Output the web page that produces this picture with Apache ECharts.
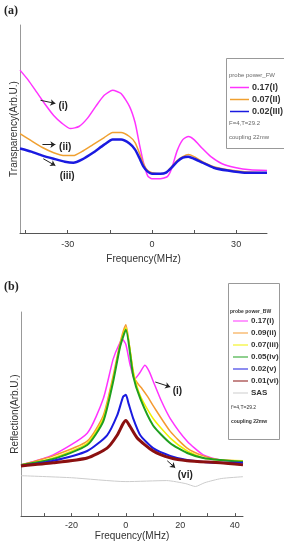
<!DOCTYPE html>
<html>
<head>
<meta charset="utf-8">
<script src="https://cdn.jsdelivr.net/npm/echarts@6/dist/echarts.min.js"></script>
<style>
  body { margin: 0; background: #fff; }
  #myChart { width: 284px; height: 542px; }
</style>
</head>
<body>
<div id="myChart"></div>
<script>
// panel (a) - transparency
var freqA = [-47, -44, -41, -38, -35, -32, -29, -26, -23, -20, -17, -14, -11, -8, -6, -4.5, -3, -1.5, 0, 3, 5.5, 7, 9, 11, 13, 15, 18, 21, 25, 30, 35, 41];
var transA1 = [7.83, 7.34, 6.76, 6.18, 5.65, 5.27, 5.02, 5.12, 5.51, 6.09, 6.62, 6.86, 6.71, 6.09, 5.31, 4.30, 3.38, 2.75, 2.61, 2.61, 2.71, 3.09, 3.96, 4.49, 4.64, 4.49, 4.06, 3.67, 3.33, 3.14, 3.04, 3.00];
var freqA23 = [-47, -43, -39, -35, -31, -28, -25, -21, -17, -14, -11, -8, -6, -4.5, -3, -1.5, 0, 3, 5, 7, 9, 11, 13, 15, 18, 22, 27, 33, 41];
var transA2 = [4.78, 4.44, 4.11, 3.86, 3.72, 3.72, 3.91, 4.25, 4.59, 4.83, 4.83, 4.64, 4.35, 3.86, 3.33, 3.00, 2.90, 2.85, 2.90, 3.19, 3.48, 3.67, 3.77, 3.67, 3.43, 3.19, 3.04, 2.95, 2.90];
var transA3 = [4.06, 3.91, 3.72, 3.57, 3.43, 3.38, 3.53, 3.86, 4.25, 4.49, 4.49, 4.30, 4.01, 3.62, 3.19, 2.95, 2.85, 2.85, 2.90, 3.14, 3.43, 3.62, 3.67, 3.57, 3.38, 3.14, 3.00, 2.90, 2.90];
var namesA = ['0.17(I)', '0.07(II)', '0.02(III)'];

// panel (b) - reflection
var freqB1 = [-38.5, -26.7, -14.2, -8.3, -4.7, -2.5, -1.2, 0, 1.5, 3.2, 5, 7, 8.5, 10, 13, 16.3, 22.5, 28.4, 34.7, 43];
var reflB1 = [2.51, 3.00, 4.06, 5.75, 7.68, 8.41, 8.65, 8.41, 7.44, 6.71, 7.00, 7.39, 7.10, 6.62, 5.65, 4.78, 3.67, 3.00, 2.75, 2.71];
var freqB2 = [-38.5, -26.7, -14.2, -8.3, -4.7, -2.1, 0, 1.5, 3, 4.5, 6, 8, 10, 16.3, 22.5, 28.4, 34.7, 43];
var reflB2 = [2.51, 2.95, 3.67, 4.93, 6.86, 8.50, 9.37, 8.16, 6.81, 6.47, 6.23, 5.85, 5.41, 4.15, 3.33, 2.95, 2.75, 2.71];
var freqB34 = [-38.5, -26.7, -14.2, -8.3, -4.7, -2.1, 0, 2.7, 5.3, 10, 16.3, 22.5, 28.4, 34.7, 43];
var reflB3 = [2.51, 2.85, 3.57, 4.78, 6.71, 8.36, 9.23, 7.10, 5.89, 4.78, 3.82, 3.19, 2.85, 2.75, 2.71];
var reflB4 = [2.51, 2.80, 3.48, 4.64, 6.57, 8.31, 9.13, 6.86, 5.75, 4.44, 3.57, 3.09, 2.85, 2.75, 2.66];
var freqB5 = [-38.5, -26.7, -14.2, -6.9, -3.2, -1, 0, 1, 2.7, 5.3, 10, 16.3, 22.5, 34.7, 43];
var reflB5 = [2.46, 2.71, 3.19, 3.96, 4.93, 5.85, 5.94, 5.51, 4.78, 3.96, 3.33, 2.95, 2.75, 2.61, 2.61];
var freqB6 = [-38.5, -26.7, -14.2, -6.9, -3.2, -1, 0, 1.5, 4.2, 10, 16.3, 22.5, 34.7, 43];
var reflB6 = [2.46, 2.61, 2.85, 3.33, 3.96, 4.54, 4.69, 4.40, 3.82, 3.19, 2.85, 2.71, 2.61, 2.51];
var freqSas = [-38.5, -20, 0, 15, 22, 25.5, 29, 35, 43];
var reflSas = [1.98, 1.88, 1.69, 1.74, 1.59, 1.45, 1.64, 1.84, 1.93];
var namesB = ['0.17(i)', '0.09(ii)', '0.07(iii)', '0.05(iv)', '0.02(v)', '0.01(vi)', 'SAS'];

// tick labels
var ticksA = [-45, -30, -15, 0, 15, 30];
var labelsA = [-30, 0, 30];
var ticksB = [-30, -20, -10, 0, 10, 20, 30, 40];
var labelsB = [-20, 0, 20, 40];

function zip(xs, ys) {
  return xs.map(function (x, i) { return [x, ys[i]]; });
}

var font = 'Liberation Sans, Arial, sans-serif';

function arrow(from, to) {
  return {
    silent: true,
    symbol: ['none', 'arrow'],
    symbolSize: 5,
    animation: false,
    label: { show: false },
    lineStyle: { color: '#222', width: 1, type: 'solid' },
    data: [[{ coord: from }, { coord: to }]]
  };
}
function note(text, at) {
  return {
    silent: true,
    symbol: 'circle',
    symbolSize: 1,
    itemStyle: { color: 'rgba(0,0,0,0)' },
    label: { show: true, position: 'inside', formatter: '{b}', color: '#222', fontSize: 10, fontWeight: 'bold', fontFamily: font },
    data: [{ name: text, coord: at }]
  };
}

function xAxisOf(idx, min, max, ticks, labels, gap, margin) {
  return {
    gridIndex: idx, type: 'value', min: min, max: max,
    axisLine: { onZero: false, lineStyle: { color: '#555' } },
    axisTick: { inside: true, length: 3, customValues: ticks, lineStyle: { color: '#555' } },
    axisLabel: { customValues: labels, fontSize: 9, color: '#333', margin: margin, fontFamily: font },
    splitLine: { show: false },
    name: 'Frequency(MHz)', nameLocation: 'middle', nameGap: gap,
    nameTextStyle: { fontSize: 10, color: '#333', fontFamily: font }
  };
}
function yAxisOf(idx, name) {
  return {
    gridIndex: idx, type: 'value', min: 0, max: 10,
    axisLine: { show: true, onZero: false, lineStyle: { color: '#999' } },
    axisTick: { show: false }, axisLabel: { show: false }, splitLine: { show: false },
    name: name, nameLocation: 'middle', nameGap: 1,
    nameTextStyle: { fontSize: 10, color: '#333', fontFamily: font }
  };
}
function line(name, grid, pts, color, width, extra) {
  var s = {
    name: name, type: 'line', xAxisIndex: grid, yAxisIndex: grid,
    data: pts, showSymbol: false, smooth: 0.2, color: color,
    lineStyle: { color: color, width: width }
  };
  for (var k in extra) s[k] = extra[k];
  return s;
}

var canvas = document.getElementById('myChart');
var myChart = echarts.init(canvas);
var option = {
  animation: false,
  textStyle: { fontFamily: font },
  grid: [
    { left: 20, top: 25, width: 247, height: 208 },
    { left: 21, top: 312, width: 222, height: 207 }
  ],
  xAxis: [
    xAxisOf(0, -47, 41, ticksA, labelsA, 21, 7),
    xAxisOf(1, -38.5, 43, ticksB, labelsB, 14, 5)
  ],
  yAxis: [
    yAxisOf(0, 'Transparency(Arb.U.)'),
    yAxisOf(1, 'Reflection(Arb.U.)')
  ],
  legend: [
    {
      data: namesA.map(function (n) { return 'a ' + n; }),
      formatter: function (n) { return n.slice(2); },
      orient: 'vertical', left: 230, top: 82,
      itemWidth: 19, itemHeight: 1.5, itemGap: 1, icon: 'rect',
      textStyle: { fontSize: 9, fontWeight: 'bold', color: '#333', lineHeight: 11, padding: [0, 0, 0, -2] },
      padding: 0, selectedMode: false
    },
    {
      data: namesB.map(function (n) { return 'b ' + n; }),
      formatter: function (n) { return n.slice(2); },
      orient: 'vertical', left: 233, top: 316,
      itemWidth: 15, itemHeight: 1, itemGap: 2, icon: 'rect',
      textStyle: { fontSize: 8, fontWeight: 'bold', color: '#333', lineHeight: 10, padding: [0, 0, 0, -2] },
      padding: 0, selectedMode: false
    }
  ],
  graphic: [
    { type: 'rect', z: -1, shape: { x: 226.5, y: 58.5, width: 70, height: 90 }, style: { fill: '#fff', stroke: '#999', lineWidth: 1 } },
    { type: 'text', x: 229, y: 72, style: { text: 'probe power_FW', fontSize: 6, fill: '#666', fontFamily: font } },
    { type: 'text', x: 229, y: 120, style: { text: 'F=4,T=29.2', fontSize: 6, fill: '#666', fontFamily: font } },
    { type: 'text', x: 229, y: 134, style: { text: 'coupling 22mw', fontSize: 6, fill: '#666', fontFamily: font } },
    { type: 'rect', z: -1, shape: { x: 228.5, y: 283.5, width: 51, height: 156 }, style: { fill: '#fff', stroke: '#999', lineWidth: 1 } },
    { type: 'text', x: 230, y: 309, style: { text: 'probe power_BW', fontSize: 5, fontWeight: 'bold', fill: '#333', fontFamily: font } },
    { type: 'text', x: 231, y: 405, style: { text: "f'=4,T=29.2", fontSize: 5, fill: '#333', fontFamily: font } },
    { type: 'text', x: 231, y: 419, style: { text: 'coupling 22mw', fontSize: 5, fontWeight: 'bold', fill: '#333', fontFamily: font } },
    { type: 'text', x: 4, y: 5, style: { text: '(a)', fontSize: 12, fontWeight: 'bold', fill: '#222', fontFamily: 'Liberation Serif, serif' } },
    { type: 'text', x: 4, y: 281, style: { text: '(b)', fontSize: 12, fontWeight: 'bold', fill: '#222', fontFamily: 'Liberation Serif, serif' } }
  ],
  series: [
    line('a ' + namesA[0], 0, zip(freqA, transA1), '#ff33ff', 1.5, {
      markLine: arrow([-39.7, 6.38], [-34.4, 6.23]), markPoint: note('(i)', [-31.6, 6.09])
    }),
    line('a ' + namesA[1], 0, zip(freqA23, transA2), '#f0a030', 1.5, {
      markLine: arrow([-39, 4.25], [-34.4, 4.25]), markPoint: note('(ii)', [-30.9, 4.11])
    }),
    line('a ' + namesA[2], 0, zip(freqA23, transA3), '#1a1ae0', 2.5, {
      markLine: arrow([-38.7, 3.57], [-34.4, 3.24]), markPoint: note('(iii)', [-30.2, 2.71])
    }),
    line('b ' + namesB[6], 1, zip(freqSas, reflSas), '#cccccc', 1, {}),
    line('b ' + namesB[0], 1, zip(freqB1, reflB1), '#ff33ff', 1.5, {
      markLine: arrow([10.8, 6.57], [16.3, 6.33]), markPoint: note('(i)', [18.9, 6.14])
    }),
    line('b ' + namesB[1], 1, zip(freqB2, reflB2), '#f59a30', 1.5, {}),
    line('b ' + namesB[2], 1, zip(freqB34, reflB3), '#f0f000', 1.5, {}),
    line('b ' + namesB[3], 1, zip(freqB34, reflB4), '#1fa01f', 2, {}),
    line('b ' + namesB[4], 1, zip(freqB5, reflB5), '#1a1ae0', 2, {}),
    line('b ' + namesB[5], 1, zip(freqB6, reflB6), '#8b1010', 3, {
      markLine: arrow([15.2, 2.71], [18.1, 2.37]), markPoint: note('(vi)', [21.8, 1.98])
    })
  ]
};
myChart.setOption(option);
</script>
</body>
</html>
